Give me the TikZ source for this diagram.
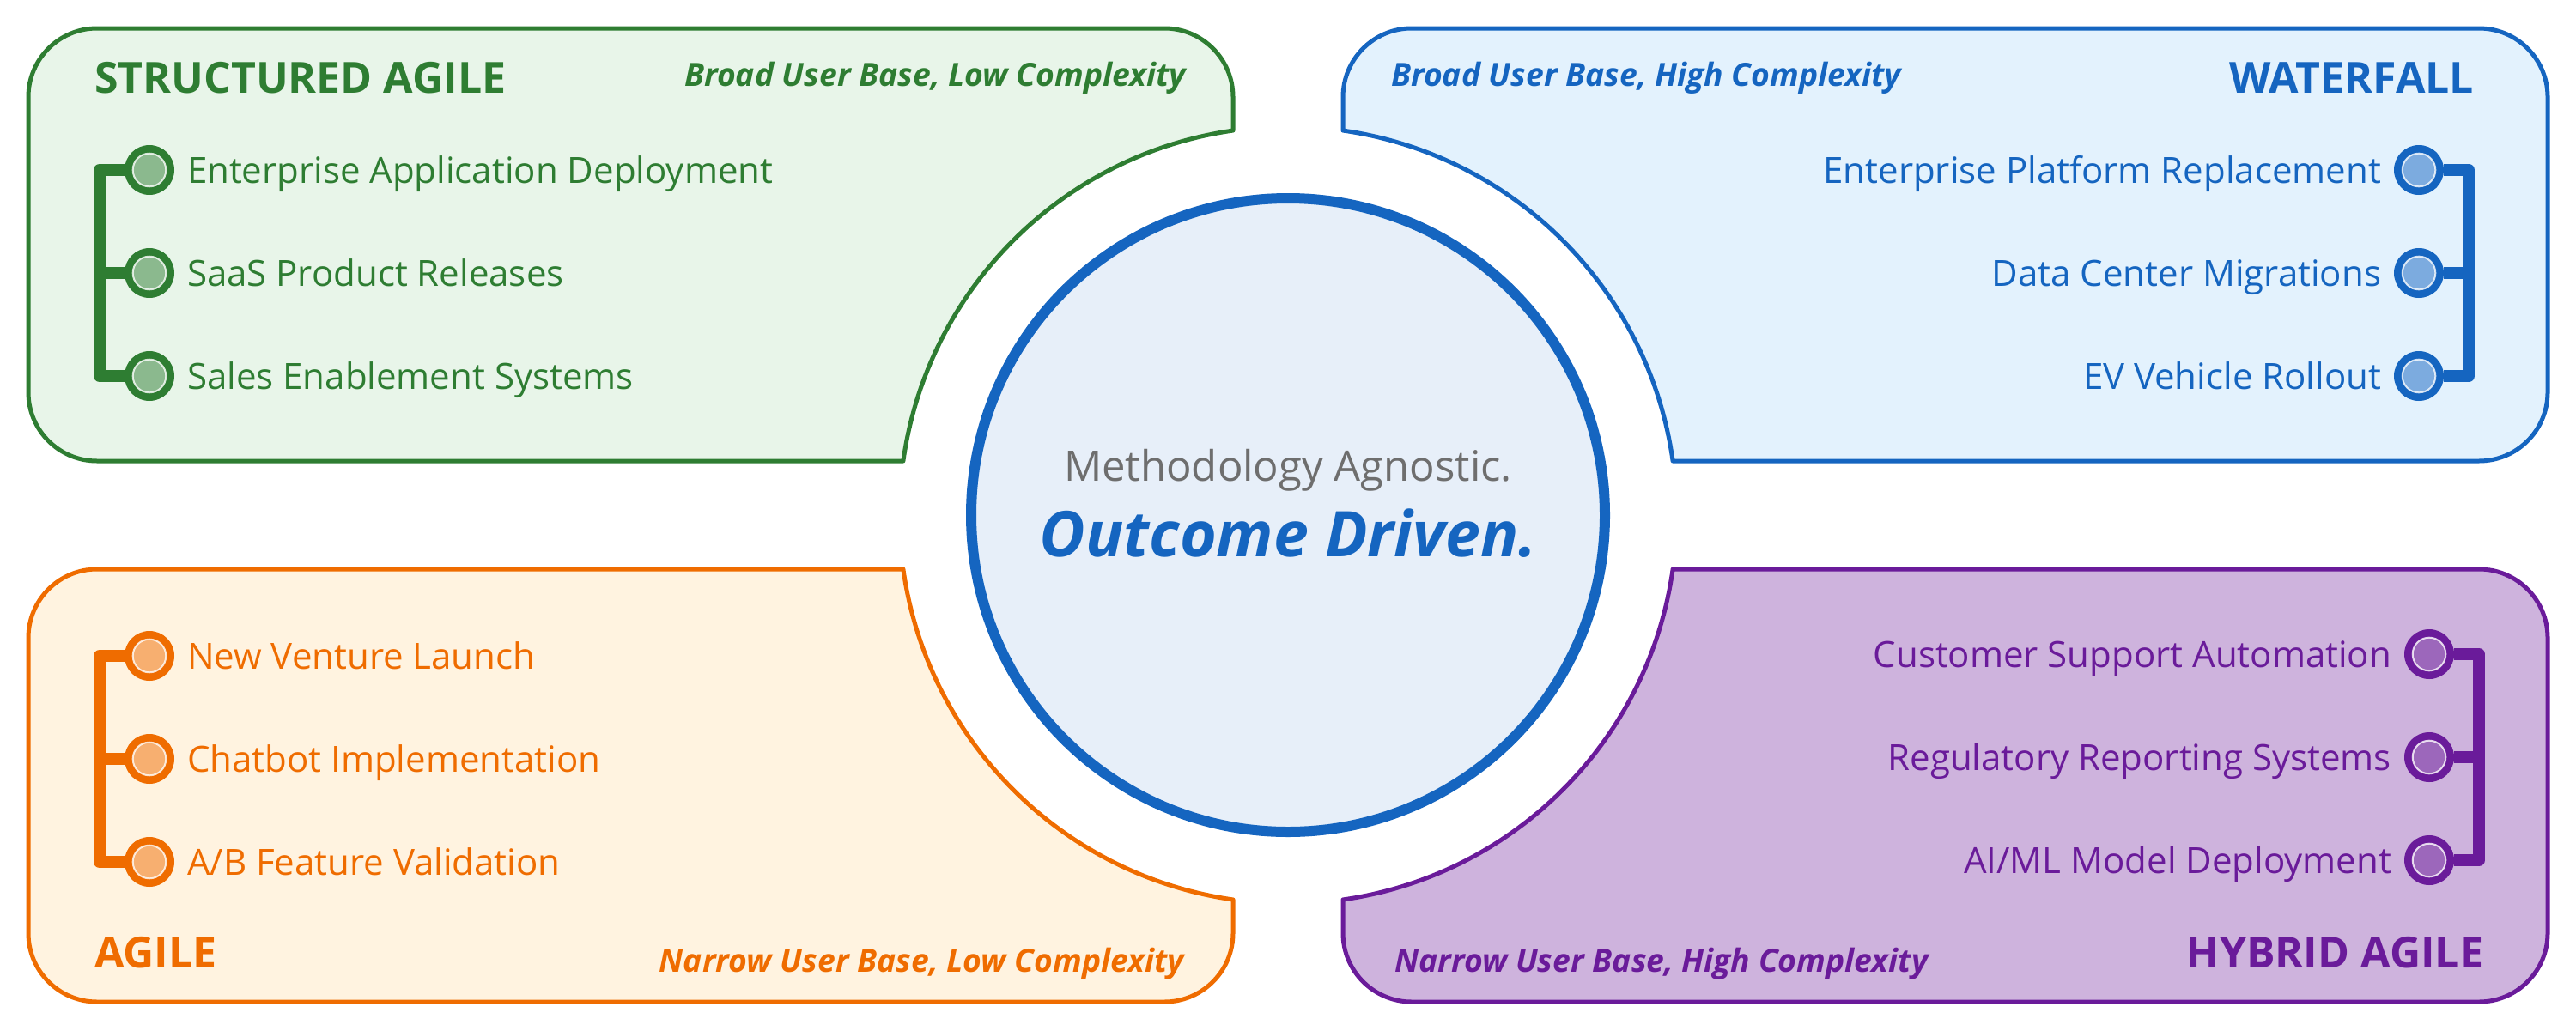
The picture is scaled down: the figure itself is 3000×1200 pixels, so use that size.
\documentclass[tikz,border=0pt]{standalone}
\usepackage{fontspec}
\setmainfont{Open Sans}
\usetikzlibrary{calc}

\definecolor{gdark}{HTML}{2E7D32}
\definecolor{gfill}{HTML}{E8F5E9}
\definecolor{bdark}{HTML}{1565C0}
\definecolor{bfill}{HTML}{E3F2FD}
\definecolor{odark}{HTML}{EF6C00}
\definecolor{ofill}{HTML}{FFF3E0}
\definecolor{pdark}{HTML}{6A1B9A}
\definecolor{pfill}{HTML}{CEB3DD}
\definecolor{hubfill}{HTML}{E7EFF9}
\definecolor{hubtext}{HTML}{6E6E6E}
\colorlet{glight}{gdark!50!gfill}
\colorlet{blight}{bdark!50!bfill}
\colorlet{olight}{odark!50!ofill}
\colorlet{plight}{pdark!50!pfill}

\pgfdeclarelayer{boxes}
\pgfdeclarelayer{links}
\pgfsetlayers{boxes,links,main}

\tikzset{
  every node/.style={inner sep=0pt, outer sep=0pt},
  quad/.style args={#1/#2}{draw=#1, fill=#2, line width=5pt, line join=round},
  dot/.style args={#1/#2}{circle, minimum size=58pt, fill=#1,
    path picture={\draw[draw=white, draw opacity=0.8, line width=2pt, fill=#2]
      (path picture bounding box.center) circle[radius=19.3pt];}},
  bar/.style={draw=#1, line width=14pt, line join=round},
  item/.style={font=\fontsize{42}{50}\selectfont, text=#1},
  head/.style={font=\fontsize{50}{60}\selectfont\bfseries, text=#1},
  sub/.style={font=\fontsize{37.3}{44}\selectfont\bfseries\itshape, text=#1},
}

\begin{document}
\begin{tikzpicture}[x=1pt, y=-1pt]
\useasboundingbox (0,0) rectangle (3000,1200);

% quadrant panels: one outline, mirrored about the hub centre
\begin{pgfonlayer}{boxes}
\fill[white] (0,0) rectangle (3000,1200);
\begin{scope}[shift={(1500,600)}]
  \path[quad=gdark/gfill] (-1387,-567) -- (-144,-567) arc[start angle=-90, end angle=0, radius=80]
    -- (-64,-447.95) arc[start angle=261.87, end angle=188.0, radius=452.5]
    -- (-1387,-63) arc[start angle=90, end angle=180, radius=80]
    -- (-1467,-487) arc[start angle=180, end angle=270, radius=80] -- cycle;
\end{scope}
\begin{scope}[shift={(1500,600)}, xscale=-1]
  \path[quad=bdark/bfill] (-1387,-567) -- (-144,-567) arc[start angle=-90, end angle=0, radius=80]
    -- (-64,-447.95) arc[start angle=261.87, end angle=188.0, radius=452.5]
    -- (-1387,-63) arc[start angle=90, end angle=180, radius=80]
    -- (-1467,-487) arc[start angle=180, end angle=270, radius=80] -- cycle;
\end{scope}
\begin{scope}[shift={(1500,600)}, yscale=-1]
  \path[quad=odark/ofill] (-1387,-567) -- (-144,-567) arc[start angle=-90, end angle=0, radius=80]
    -- (-64,-447.95) arc[start angle=261.87, end angle=188.0, radius=452.5]
    -- (-1387,-63) arc[start angle=90, end angle=180, radius=80]
    -- (-1467,-487) arc[start angle=180, end angle=270, radius=80] -- cycle;
\end{scope}
\begin{scope}[shift={(1500,600)}, xscale=-1, yscale=-1]
  \path[quad=pdark/pfill] (-1387,-567) -- (-144,-567) arc[start angle=-90, end angle=0, radius=80]
    -- (-64,-447.95) arc[start angle=261.87, end angle=188.0, radius=452.5]
    -- (-1387,-63) arc[start angle=90, end angle=180, radius=80]
    -- (-1467,-487) arc[start angle=180, end angle=270, radius=80] -- cycle;
\end{scope}
\end{pgfonlayer}

% central hub
\node[circle, minimum size=738pt, draw=bdark, line width=12pt, fill=hubfill] (hub) at (1500,600) {};
\node[anchor=base, font=\fontsize{49}{58}\selectfont, text=hubtext] (hubtop) at (1500,560) {Methodology Agnostic.};
\node[anchor=base, font=\fontsize{73.4}{86}\selectfont\bfseries\itshape, text=bdark] (hubbot) at (1500,648) {Outcome Driven.};

% STRUCTURED AGILE (top left)
\node[head=gdark, anchor=base west] (gh) at (110,108) {STRUCTURED AGILE};
\node[sub=gdark, anchor=base east] (gs) at (1381,100) {Broad User Base, Low Complexity};
\node[dot=gdark/glight] (g1) at (174,198) {};
\node[dot=gdark/glight] (g2) at (174,318) {};
\node[dot=gdark/glight] (g3) at (174,438) {};
\coordinate (gbar) at (116,0);
\node[item=gdark, anchor=base west] (gt1) at (218,213) {Enterprise Application Deployment};
\node[item=gdark, anchor=base west] (gt2) at (218,333) {SaaS Product Releases};
\node[item=gdark, anchor=base west] (gt3) at (218,453) {Sales Enablement Systems};

% WATERFALL (top right)
\node[head=bdark, anchor=base east] (bh) at (2881,108) {WATERFALL};
\node[sub=bdark, anchor=base west] (bs) at (1620,100) {Broad User Base, High Complexity};
\node[dot=bdark/blight] (b1) at (2817,198) {};
\node[dot=bdark/blight] (b2) at (2817,318) {};
\node[dot=bdark/blight] (b3) at (2817,438) {};
\coordinate (bbar) at (2875,0);
\node[item=bdark, anchor=base east] (bt1) at (2773,213) {Enterprise Platform Replacement};
\node[item=bdark, anchor=base east] (bt2) at (2773,333) {Data Center Migrations};
\node[item=bdark, anchor=base east] (bt3) at (2773,453) {EV Vehicle Rollout};

% AGILE (bottom left)
\node[head=odark, anchor=base west] (oh) at (110,1127) {AGILE};
\node[sub=odark, anchor=base east] (os) at (1379,1132) {Narrow User Base, Low Complexity};
\node[dot=odark/olight] (o1) at (174,764) {};
\node[dot=odark/olight] (o2) at (174,884) {};
\node[dot=odark/olight] (o3) at (174,1004) {};
\coordinate (obar) at (116,0);
\node[item=odark, anchor=base west] (ot1) at (218,779) {New Venture Launch};
\node[item=odark, anchor=base west] (ot2) at (218,899) {Chatbot Implementation};
\node[item=odark, anchor=base west] (ot3) at (218,1019) {A/B Feature Validation};

% HYBRID AGILE (bottom right)
\node[head=pdark, anchor=base east] (ph) at (2892,1127) {HYBRID AGILE};
\node[sub=pdark, anchor=base west] (ps) at (1624,1132) {Narrow User Base, High Complexity};
\node[dot=pdark/plight] (p1) at (2829,762) {};
\node[dot=pdark/plight] (p2) at (2829,882) {};
\node[dot=pdark/plight] (p3) at (2829,1002) {};
\coordinate (pbar) at (2887,0);
\node[item=pdark, anchor=base east] (pt1) at (2785,777) {Customer Support Automation};
\node[item=pdark, anchor=base east] (pt2) at (2785,897) {Regulatory Reporting Systems};
\node[item=pdark, anchor=base east] (pt3) at (2785,1017) {AI/ML Model Deployment};

% bracket connectors behind the dots
\begin{pgfonlayer}{links}
  \draw[bar=gdark] (g1) -- (g1 -| gbar) -- (g3 -| gbar) -- (g3);
  \draw[bar=gdark] (g2 -| gbar) -- (g2);
  \draw[bar=bdark] (b1) -- (b1 -| bbar) -- (b3 -| bbar) -- (b3);
  \draw[bar=bdark] (b2 -| bbar) -- (b2);
  \draw[bar=odark] (o1) -- (o1 -| obar) -- (o3 -| obar) -- (o3);
  \draw[bar=odark] (o2 -| obar) -- (o2);
  \draw[bar=pdark] (p1) -- (p1 -| pbar) -- (p3 -| pbar) -- (p3);
  \draw[bar=pdark] (p2 -| pbar) -- (p2);
\end{pgfonlayer}
\end{tikzpicture}
\end{document}
